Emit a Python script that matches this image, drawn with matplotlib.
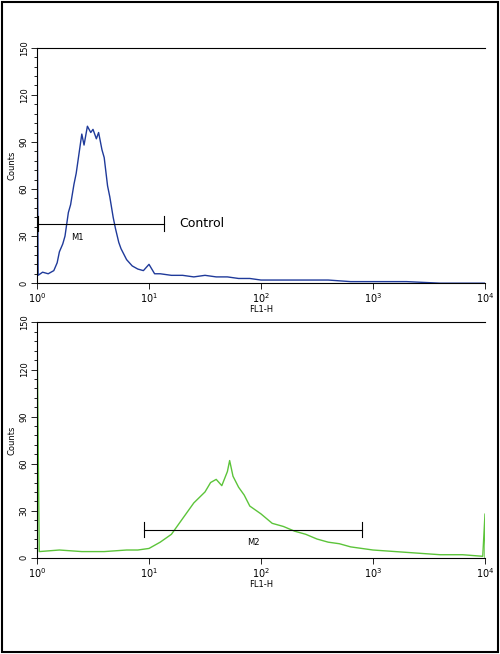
import matplotlib
matplotlib.use("Agg")
import matplotlib.pyplot as plt
from matplotlib.ticker import MultipleLocator, NullLocator
from matplotlib.patches import Rectangle

# log10 channel positions and counts
ctrl_log = [0.0, 0.0, 0.01, 0.05, 0.1, 0.15, 0.18, 0.2, 0.23, 0.25, 0.28, 0.3, 0.33, 0.35, 0.38, 0.4, 0.42, 0.45, 0.48, 0.5,
            0.53, 0.55, 0.58, 0.6, 0.63, 0.65, 0.68, 0.7, 0.73, 0.75, 0.8, 0.85, 0.9, 0.95, 1.0, 1.05, 1.1, 1.2, 1.3,
            1.4, 1.5, 1.6, 1.7, 1.8, 1.9, 2.0, 2.2, 2.4, 2.6, 2.8, 3.0, 3.3, 3.6, 4.0]
ctrl_cnt = [0, 150, 5, 7, 6, 8, 13, 20, 25, 30, 45, 50, 63, 70, 85, 95, 88, 100, 96, 98,
            92, 96, 85, 80, 62, 55, 42, 35, 26, 22, 15, 11, 9, 8, 12, 6, 6, 5, 5,
            4, 5, 4, 4, 3, 3, 2, 2, 2, 2, 1, 1, 1, 0, 0]
pos_log = [0.0, 0.0, 0.02, 0.2, 0.4, 0.6, 0.8, 0.9, 1.0, 1.1, 1.2, 1.3, 1.4, 1.5, 1.55, 1.6, 1.65, 1.7, 1.72,
           1.75, 1.8, 1.85, 1.9, 2.0, 2.1, 2.2, 2.3, 2.4, 2.5, 2.6, 2.7, 2.8, 2.9, 3.0, 3.2, 3.4, 3.6, 3.8,
           3.98, 4.0, 4.0]
pos_cnt = [0, 150, 4, 5, 4, 4, 5, 5, 6, 10, 15, 25, 35, 42, 48, 50, 46, 55, 62,
           52, 45, 40, 33, 28, 22, 20, 17, 15, 12, 10, 9, 7, 6, 5, 4, 3, 2, 2,
           1, 28, 0]
xticks = [1, 10, 100, 1000, 10000]
xticklabels = [r"$10^0$", r"$10^1$", r"$10^2$", r"$10^3$", r"$10^4$"]
yticks = [0, 30, 60, 90, 120, 150]

fig = plt.figure(figsize=(5, 6.54), dpi=100)
fig.patches.append(Rectangle((0.004, 0.003), 0.992, 0.994, transform=fig.transFigure,
                             fill=False, edgecolor="black", lw=1.5))

def panel(rect, xs, ys, color):
    ax = fig.add_axes(rect)
    ax.plot([10 ** v for v in xs], ys, color=color, lw=1)
    ax.set_xscale("log")
    ax.set_xlim(1, 10000)
    ax.set_ylim(0, 150)
    ax.set_xticks(xticks)
    ax.set_xticklabels(xticklabels, fontsize=7)
    ax.xaxis.set_minor_locator(NullLocator())
    ax.set_yticks(yticks)
    ax.set_yticklabels([str(v) for v in yticks], fontsize=6, rotation=90, va="center")
    ax.yaxis.set_minor_locator(MultipleLocator(6))
    ax.tick_params(axis="both", which="both", length=2, width=0.6, pad=2)
    ax.tick_params(axis="both", which="major", length=4)
    ax.set_xlabel("FL1-H", fontsize=6, labelpad=0)
    ax.set_ylabel("Counts", fontsize=6, labelpad=2)
    for s in ax.spines.values():
        s.set_linewidth(0.8)
    ax.spines["right"].set_visible(False)
    return ax

ax1 = panel([0.074, 0.567, 0.896, 0.36], ctrl_log, ctrl_cnt, "#1f3a9a")
ax1.plot([1, 13.5], [38, 38], color="black", lw=0.8)
ax1.plot([13.5, 13.5], [33, 43], color="black", lw=0.8)
ax1.plot([1.02, 1.02], [33, 43], color="black", lw=0.8)
ax1.text(2.3, 29, "M1", fontsize=6, ha="center", va="center")
ax1.text(18.5, 38, "Control", fontsize=9, ha="left", va="center")

ax2 = panel([0.074, 0.147, 0.896, 0.36], pos_log, pos_cnt, "#5cc43a")
ax2.plot([9, 800], [18, 18], color="black", lw=0.8)
ax2.plot([9, 9], [13, 23], color="black", lw=0.8)
ax2.plot([800, 800], [13, 23], color="black", lw=0.8)
ax2.text(85, 10, "M2", fontsize=6, ha="center", va="center")

fig.savefig("out.png", dpi=100)
